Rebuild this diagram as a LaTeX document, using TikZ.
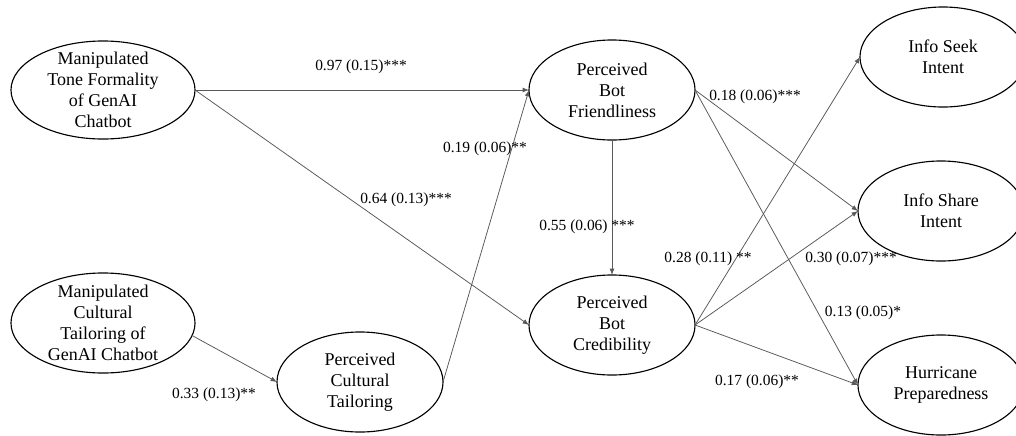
\documentclass[tikz,border=0pt]{standalone}
\usepackage{fontspec}
\setmainfont{Liberation Serif}
\usetikzlibrary{shapes.geometric,arrows.meta}

\begin{document}
\begin{tikzpicture}[x=0.025cm,y=-0.025cm,
    latent/.style={ellipse,draw,line width=0.8pt,align=center,inner sep=-20pt,outer sep=0pt,
      minimum width=4.15cm,minimum height=2.5cm,font=\fontsize{12.8}{15}\selectfont},
    link/.style={draw=black!65,line width=0.55pt,-{Latex[length=4.5pt,width=3.5pt]}},
    coef/.style={font=\fontsize{11}{13}\selectfont,inner sep=0pt}]
\useasboundingbox (0,0) rectangle (1016,435);
% constructs
\node[latent,minimum width=4.6cm,minimum height=2.45cm] (tone) at (103,90) {Manipulated\\Tone Formality\\of GenAI\\Chatbot};
\node[latent,minimum width=4.6cm] (cmanip) at (103,323) {Manipulated\\Cultural\\Tailoring of\\GenAI Chatbot};
\node[latent] (pct) at (360,382) {Perceived\\Cultural\\Tailoring};
\node[latent] (fri) at (612,90) {Perceived\\Bot\\Friendliness};
\node[latent] (cred) at (612,325) {Perceived\\Bot\\Credibility};
\node[latent] (seek) at (943,57) {Info Seek\\Intent};
\node[latent] (share) at (941,211) {Info Share\\Intent};
\node[latent] (hur) at (941,385) {Hurricane\\Preparedness};
% paths
\draw[link] (tone.east) -- (fri.west);
\draw[link] (tone.east) -- (cred.west);
\draw[link] (cmanip.-8) -- (pct.west);
\draw[link] (pct.east) -- (fri.west);
\draw[link] (fri.south) -- (cred.north);
\draw[link] (fri.east) -- (share.west);
\draw[link] (fri.east) -- (hur.west);
\draw[link] (cred.east) -- (seek.west);
\draw[link] (cred.east) -- (share.west);
\draw[link] (cred.east) -- (hur.west);
% estimates
\node[coef] (c1) at (361,67) {0.97 (0.15)***};
\node[coef] (c2) at (406,200) {0.64 (0.13)***};
\node[coef] (c3) at (485,149) {0.19 (0.06)**};
\node[coef] (c4) at (214,395) {0.33 (0.13)**};
\node[coef] (c5) at (587,227) {0.55 (0.06) ***};
\node[coef] (c6) at (755,97) {0.18 (0.06)***};
\node[coef] (c7) at (708,259) {0.28 (0.11) **};
\node[coef] (c8) at (851,259) {0.30 (0.07)***};
\node[coef] (c9) at (863,313) {0.13 (0.05)*};
\node[coef] (c10) at (757,382) {0.17 (0.06)**};
\end{tikzpicture}
\end{document}
